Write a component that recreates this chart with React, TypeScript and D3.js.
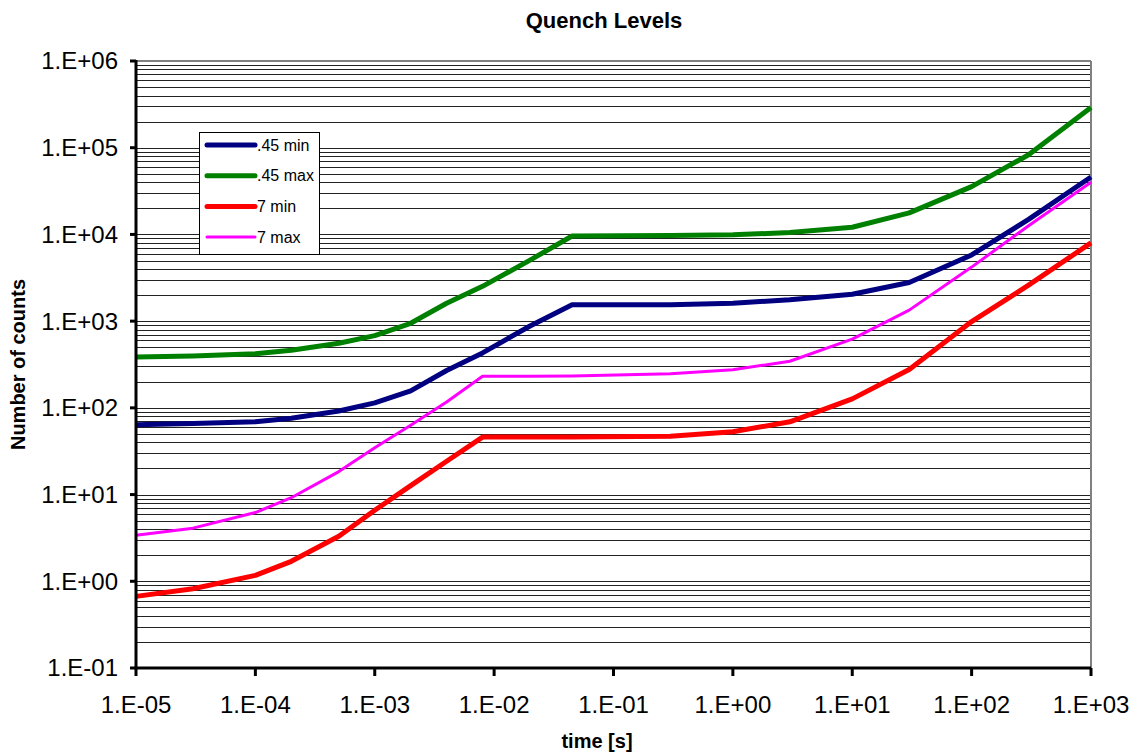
import * as d3 from 'd3'
import React from 'react'

// time samples [s], shared by every series
const times = [1e-5, 3e-5, 1e-4, 2e-4, 5e-4, 1e-3, 2e-3, 4e-3, 8e-3, 2e-2, 4.5e-2, 0.3, 1, 3, 10, 30, 100, 300, 1000]

const min045 = [64, 66, 69, 76, 92, 114, 157, 270, 430, 880, 1545, 1545, 1610, 1770, 2040, 2790, 5800, 14900, 46000]
const max045 = [385, 395, 420, 462, 555, 680, 945, 1610, 2520, 5050, 9600, 9700, 9900, 10500, 12100, 17700, 35600, 83000, 290000]
const min7 = [0.67, 0.82, 1.17, 1.7, 3.3, 6.6, 12.7, 24.2, 46, 46, 46, 47, 53, 69, 127, 277, 990, 2600, 8000]
const max7 = [3.4, 4.1, 6.2, 9.2, 18.4, 34.7, 63, 117, 231, 232, 233, 248, 275, 345, 620, 1340, 4200, 12600, 40000]

const seriesNames = ['.45 min', '.45 max', '7 min', '7 max']
const seriesColors = ['#000080', '#008000', '#ff0000', '#ff00ff']
const seriesWidths = [5, 5, 5, 3]
const seriesValues = [min045, max045, min7, max7]

const xTicks = [1e-5, 1e-4, 1e-3, 1e-2, 1e-1, 1, 10, 100, 1000]
const yTicks = [1e-1, 1, 10, 100, 1e3, 1e4, 1e5, 1e6]

const WIDTH = 1141
const HEIGHT = 754
const margin = { top: 61, right: 50, bottom: 86, left: 136 }
const FONT = 'Arial, "Liberation Sans", sans-serif'

const fmtExp = (v: number) => {
  const e = Math.round(Math.log10(v))
  const sign = e < 0 ? '-' : '+'
  return `1.E${sign}${String(Math.abs(e)).padStart(2, '0')}`
}

export default function App() {
  const innerW = WIDTH - margin.left - margin.right
  const innerH = HEIGHT - margin.top - margin.bottom

  const x = d3.scaleLog().domain([1e-5, 1e3]).range([0, innerW])
  const y = d3.scaleLog().domain([1e-1, 1e6]).range([innerH, 0])

  // minor + major horizontal grid values
  const gridValues: number[] = []
  for (let e = -1; e < 6; e++) {
    for (let m = 1; m < 10; m++) gridValues.push(m * Math.pow(10, e))
  }
  gridValues.push(1e6)

  const line = d3
    .line<[number, number]>()
    .x(d => x(d[0]))
    .y(d => y(d[1]))

  const legendX = 199 - margin.left
  const legendY = 132 - margin.top

  return (
    <svg width={WIDTH} height={HEIGHT} style={{ position: 'absolute', left: 0, top: 0, background: '#fff' }}>
      <text x={604} y={28} textAnchor="middle" fontFamily={FONT} fontWeight="bold" fontSize={22}>
        Quench Levels
      </text>
      <g transform={`translate(${margin.left},${margin.top})`}>
        {/* grid */}
        {gridValues.map((v, i) => (
          <line
            key={i}
            x1={0}
            x2={innerW}
            y1={Math.round(y(v)) + 0.5}
            y2={Math.round(y(v)) + 0.5}
            stroke="#222"
            strokeWidth={1}
          />
        ))}
        {/* plot border top / right */}
        <line x1={0} x2={innerW} y1={0} y2={0} stroke="#808080" strokeWidth={2} />
        <line x1={innerW} x2={innerW} y1={0} y2={innerH} stroke="#808080" strokeWidth={2} />

        {/* series */}
        {seriesValues.map((vals, i) => (
          <path
            key={seriesNames[i]}
            d={line(times.map((t, j) => [t, vals[j]] as [number, number])) || ''}
            fill="none"
            stroke={seriesColors[i]}
            strokeWidth={seriesWidths[i]}
            strokeLinejoin="round"
          />
        ))}

        {/* axes */}
        <line x1={0} x2={0} y1={-1} y2={innerH + 1.5} stroke="#000" strokeWidth={3} />
        <line x1={-1.5} x2={innerW} y1={innerH} y2={innerH} stroke="#000" strokeWidth={3} />
        {yTicks.map(v => (
          <g key={v} transform={`translate(0,${y(v)})`}>
            <line x1={-6} x2={0} stroke="#000" strokeWidth={3} />
            <text x={-18} dy="0.35em" textAnchor="end" fontFamily={FONT} fontSize={24}>
              {fmtExp(v)}
            </text>
          </g>
        ))}
        {xTicks.map(v => (
          <g key={v} transform={`translate(${x(v)},${innerH})`}>
            <line y1={0} y2={8} stroke="#000" strokeWidth={3} />
            <text y={45} textAnchor="middle" fontFamily={FONT} fontSize={24}>
              {fmtExp(v)}
            </text>
          </g>
        ))}

        {/* legend */}
        <g transform={`translate(${legendX},${legendY})`}>
          <rect x={0.5} y={0.5} width={120} height={122} fill="#fff" stroke="#000" strokeWidth={1} />
          {seriesNames.map((name, i) => (
            <g key={name} transform={`translate(0,${13 + i * 30.7})`}>
              <line x1={8} x2={56} stroke={seriesColors[i]} strokeWidth={seriesWidths[i]} strokeLinecap="round" />
              <text x={58} dy="0.36em" fontFamily={FONT} fontSize={16}>
                {name}
              </text>
            </g>
          ))}
        </g>
      </g>
      <text
        transform={`translate(25,${margin.top + innerH / 2}) rotate(-90)`}
        textAnchor="middle"
        fontFamily={FONT}
        fontWeight="bold"
        fontSize={20}
      >
        Number of counts
      </text>
      <text x={597} y={748} textAnchor="middle" fontFamily={FONT} fontWeight="bold" fontSize={20}>
        time [s]
      </text>
    </svg>
  )
}
